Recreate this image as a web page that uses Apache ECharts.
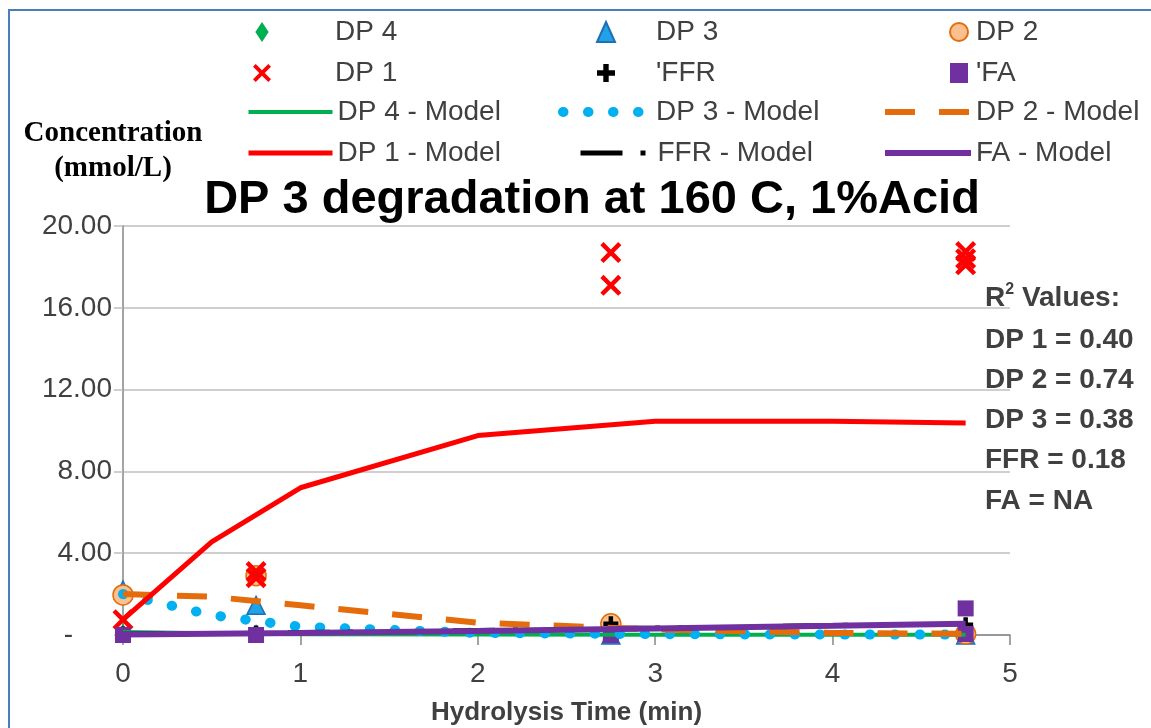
<!DOCTYPE html>
<html>
<head>
<meta charset="utf-8">
<script src="https://cdn.jsdelivr.net/npm/echarts@6/dist/echarts.min.js"></script>
<style>
  html, body { margin: 0; padding: 0; background: #fff; }
  #chart { width: 1151px; height: 728px; }
</style>
</head>
<body>
<div id="chart"></div>
<script>
// Sampling times (min) for measured concentrations
const sampleTime = [0, 0.75, 2.75, 4.75];
const dp4Obs = [0.15, 0.1, 0.0, 0.0];
const dp3Obs = [2.2, 1.45, 0.0, 0.0];
const dp2Obs = [1.96, 2.9, 0.55, 0.05];
const ffrObs = [0.05, 0.1, 0.55, 0.5];
// DP 1 and FA have replicate samples
const dp1Time = [0, 0.75, 0.75, 2.75, 2.75, 4.75, 4.75, 4.75];
const dp1Obs = [0.75, 3.1, 2.8, 18.7, 17.1, 18.75, 18.4, 18.1];
const faTime = [0, 0.75, 2.75, 4.75, 4.75];
const faObs = [0.0, 0.0, 0.0, 1.3, 0.05];

// Kinetic model curves
const modelTime = [0, 0.5, 1, 2, 3, 4, 4.75];
const dp4Model = [0.15, 0.08, 0.04, 0.02, 0.01, 0.01, 0.01];
const dp3Model = [2.0, 0.97, 0.4, 0.1, 0.04, 0.02, 0.02];
const dp2Model = [2.0, 1.87, 1.45, 0.6, 0.27, 0.1, 0.06];
const dp1Model = [0.75, 4.55, 7.2, 9.75, 10.45, 10.45, 10.37];
const ffrModel = [0.04, 0.08, 0.12, 0.22, 0.34, 0.47, 0.56];
const faModel = [0.02, 0.06, 0.1, 0.2, 0.32, 0.45, 0.55];

// Goodness of fit
const r2Names = ['DP 1', 'DP 2', 'DP 3', 'FFR', 'FA'];
const r2Values = ['0.40', '0.74', '0.38', '0.18', 'NA'];

const xTicks = { min: 0, max: 5, interval: 1 };
const yTicks = { min: 0, max: 20, interval: 4 };

const pairs = (xs, ys) => xs.map((x, i) => [x, ys[i]]);

const SANS = "'Liberation Sans', Arial, sans-serif";
const TXT = '#404040';

const crossPath = 'path://M0,3 L3,0 L10,7 L17,0 L20,3 L13,10 L20,17 L17,20 L10,13 L3,20 L0,17 L7,10 Z';
const plusPath = 'path://M7,0 H13 V7 H20 V13 H13 V20 H7 V13 H0 V7 H7 Z';
const diamondPath = 'path://M6,0 L12,9 L6,18 L0,9 Z';

// Line styles of the model curves, shared by series and legend icons
const modelStyles = {
  'DP 4 - Model': { color: '#00B050', width: 4, type: 'solid', cap: 'butt' },
  'DP 3 - Model': { color: '#00B0F0', width: 10, type: [0.5, 24.5], cap: 'round' },
  'DP 2 - Model': { color: '#E46C0A', width: 6, type: [30, 24], cap: 'butt' },
  'DP 1 - Model': { color: '#FF0000', width: 5, type: 'solid', cap: 'butt' },
  'FFR - Model': { color: '#000000', width: 5, type: [42, 18, 5, 100], cap: 'butt' },
  'FA - Model': { color: '#7030A0', width: 6, type: 'solid', cap: 'butt' }
};

function modelSeries(name, values) {
  const s = modelStyles[name];
  return {
    name, type: 'line', data: pairs(modelTime, values),
    symbol: 'none', smooth: false, clip: false,
    lineStyle: { color: s.color, width: s.width, type: s.type, cap: s.cap },
    itemStyle: { color: s.color },
    emphasis: { disabled: true }
  };
}
function obsSeries(name, xs, ys, symbol, size, color, border) {
  return {
    name, type: 'scatter', data: pairs(xs, ys), clip: false,
    symbol, symbolSize: size, symbolKeepAspect: true,
    itemStyle: { color, borderColor: border || color, borderWidth: border ? 1.5 : 0, opacity: 1 },
    emphasis: { disabled: true }
  };
}

const legendText = (pad) => ({
  fontFamily: SANS, fontSize: 28, color: TXT, lineHeight: 28,
  padding: [0, 0, 0, pad]
});
function markerLegend(names, left, top, pad) {
  return {
    data: names, orient: 'vertical', left, top, padding: 0,
    itemWidth: 18, itemHeight: 20, itemGap: 13, symbolKeepAspect: true,
    textStyle: legendText(pad), selectedMode: false
  };
}
function modelLegend(names, left, top, w) {
  return {
    data: names.map(n => ({
      name: n,
      itemStyle: { opacity: 0 },
      lineStyle: { width: modelStyles[n].width, type: modelStyles[n].type, cap: modelStyles[n].cap }
    })),
    orient: 'vertical', left, top, padding: 0,
    itemWidth: w, itemHeight: 16, itemGap: 13,
    textStyle: legendText(0), selectedMode: false
  };
}

const chart = echarts.init(document.getElementById('chart'));
chart.setOption({
  animation: false,
  backgroundColor: '#fff',
  title: {
    text: 'DP 3 degradation at 160 C, 1%Acid',
    left: 592, top: 177, padding: 0, textAlign: 'center',
    textStyle: { fontFamily: SANS, fontSize: 47, fontWeight: 'bold', color: '#000' }
  },
  legend: [
    markerLegend(['DP 4', 'DP 1'], 253, 18, 59),
    markerLegend(['DP 3', "'FFR"], 596, 18, 36),
    markerLegend(['DP 2', "'FA"], 949, 18, 3),
    modelLegend(['DP 4 - Model', 'DP 1 - Model'], 246, 98, 84),
    modelLegend(['DP 3 - Model'], 558, 98, 88),
    modelLegend(['FFR - Model'], 578, 139, 72),
    modelLegend(['DP 2 - Model', 'FA - Model'], 882, 98, 86)
  ],
  grid: { left: 123, right: 141, top: 226, bottom: 93, outerBoundsMode: 'none' },
  xAxis: {
    type: 'value', min: xTicks.min, max: xTicks.max, interval: xTicks.interval,
    name: 'Hydrolysis Time (min)', nameLocation: 'middle', nameGap: 65,
    nameTextStyle: { fontFamily: SANS, fontSize: 26, fontWeight: 'bold', color: TXT },
    axisLine: { show: true, lineStyle: { color: '#868686', width: 1.5 } },
    axisTick: { show: true, length: 10, lineStyle: { color: '#868686', width: 1.5 } },
    axisLabel: { fontFamily: SANS, fontSize: 28, color: TXT, margin: 25 },
    splitLine: { show: false }
  },
  yAxis: {
    type: 'value', min: yTicks.min, max: yTicks.max, interval: yTicks.interval,
    name: 'Concentration\n(mmol/L)', nameLocation: 'end', nameGap: 40,
    nameTextStyle: {
      fontFamily: "'Liberation Serif', 'Times New Roman', serif", fontSize: 29,
      fontWeight: 'bold', color: '#000', lineHeight: 35, align: 'center',
      verticalAlign: 'bottom', padding: [0, 20, 0, 0]
    },
    axisLine: { show: true, lineStyle: { color: '#868686', width: 1.5 } },
    axisTick: { show: true, length: 9, lineStyle: { color: '#BFBFBF', width: 1.5 } },
    axisLabel: {
      fontFamily: SANS, fontSize: 28, color: TXT, margin: 11,
      formatter: v => (v === 0 ? '-\u00a0\u00a0\u00a0\u00a0\u00a0' : v.toFixed(2))
    },
    splitLine: { show: true, lineStyle: { color: '#BFBFBF', width: 1.5 } }
  },
  graphic: [
    {
      type: 'rect', silent: true,
      shape: { x: 9, y: 10, width: 1170, height: 760 },
      style: { fill: 'none', stroke: '#4A7EBB', lineWidth: 2 }
    },
    {
      type: 'text', left: 985, top: 282, silent: true,
      style: {
        text: '{b|R}{s|2}{b| Values:}',
        rich: {
          b: { fontFamily: SANS, fontSize: 28, fontWeight: 'bold', fill: TXT, lineHeight: 36 },
          s: { fontFamily: SANS, fontSize: 16, fontWeight: 'bold', fill: TXT, lineHeight: 36, padding: [0, 0, 16, 0] }
        }
      }
    },
    {
      type: 'text', left: 985, top: 320, silent: true,
      style: {
        text: r2Names.map((n, i) => n + ' = ' + r2Values[i]).join('\n'),
        fontFamily: SANS, fontSize: 28, fontWeight: 'bold', fill: TXT, lineHeight: 40.2
      }
    }
  ],
  series: [
    modelSeries('DP 4 - Model', dp4Model),
    modelSeries('DP 3 - Model', dp3Model),
    modelSeries('DP 2 - Model', dp2Model),
    modelSeries('DP 1 - Model', dp1Model),
    modelSeries('FFR - Model', ffrModel),
    modelSeries('FA - Model', faModel),
    obsSeries('DP 4', sampleTime, dp4Obs, diamondPath, [12, 18], '#00B050'),
    obsSeries('DP 3', sampleTime, dp3Obs, 'triangle', [18, 18], '#1FA3E6', '#1F6FB5'),
    obsSeries('DP 2', sampleTime, dp2Obs, 'circle', 20, '#FAC090', '#E46C0A'),
    obsSeries('DP 1', dp1Time, dp1Obs, crossPath, 21, '#FF0000'),
    obsSeries("'FFR", sampleTime, ffrObs, plusPath, 15, '#000000'),
    obsSeries("'FA", faTime, faObs, 'rect', [16, 16], '#7030A0')
  ]
});
</script>
</body>
</html>
